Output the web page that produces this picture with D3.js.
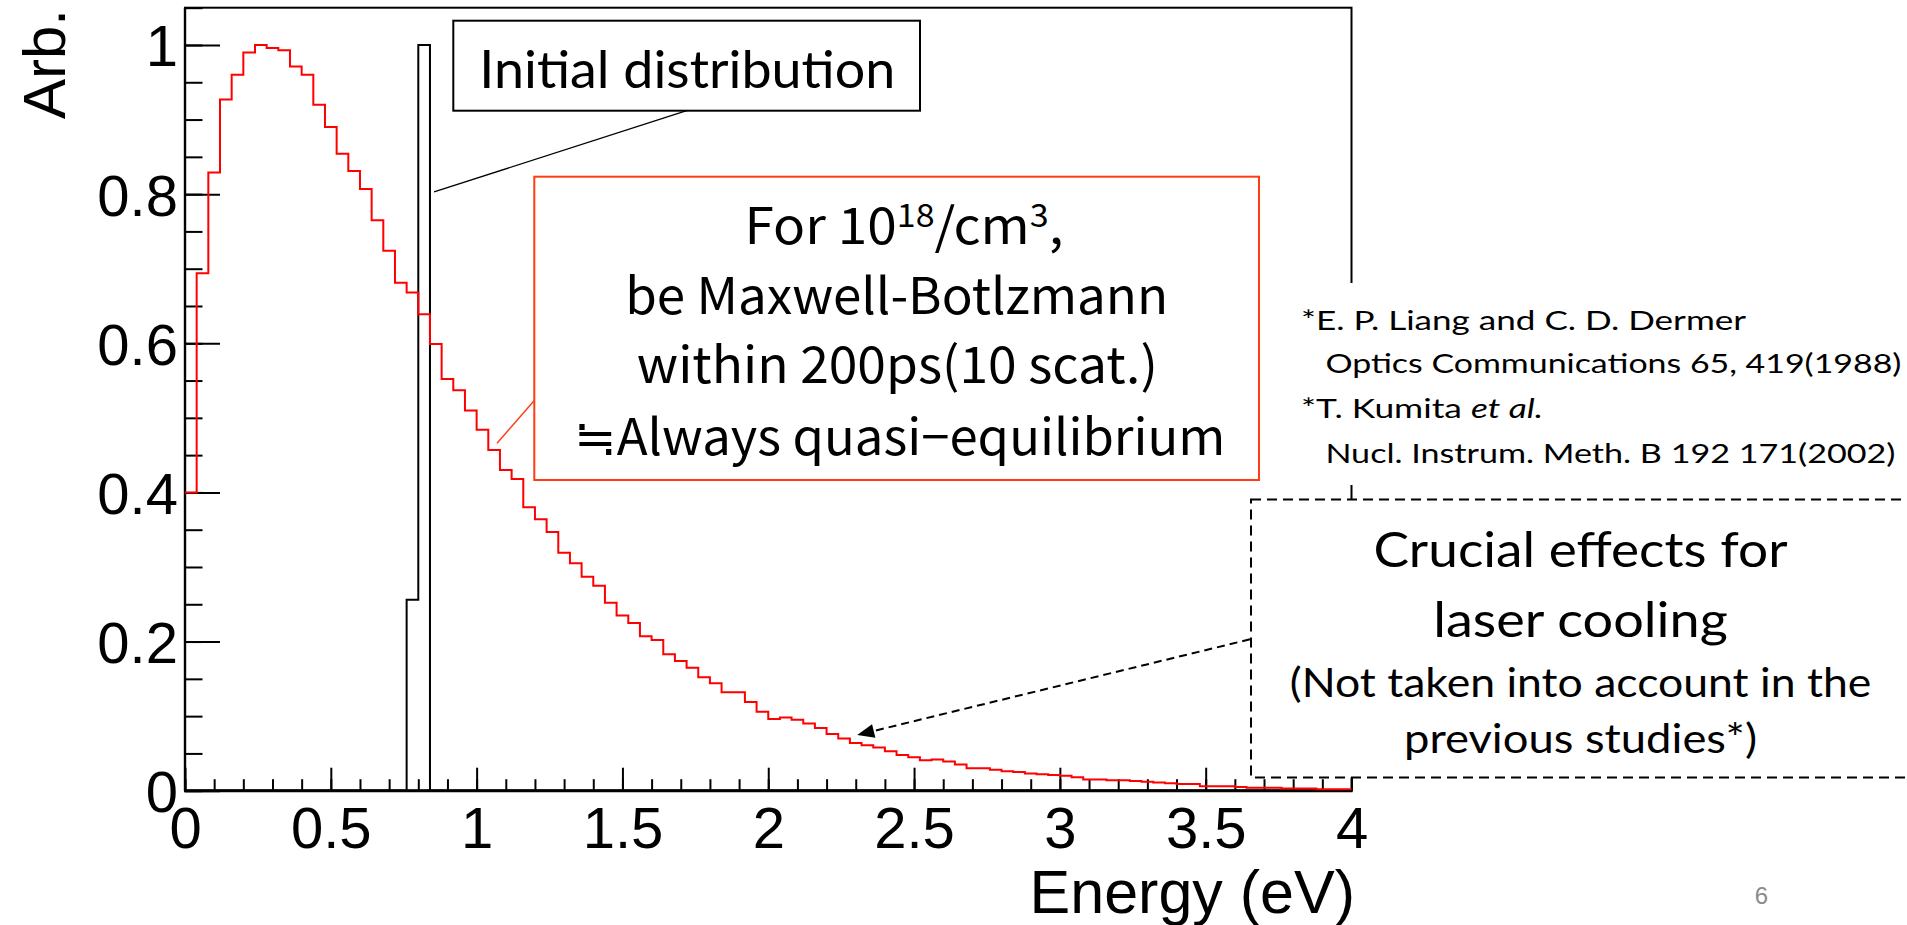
<!DOCTYPE html>
<html><head><meta charset="utf-8">
<script src="https://cdn.jsdelivr.net/npm/d3@7"></script>
<style>html,body{margin:0;padding:0;background:#fff;overflow:hidden}</style>
</head><body>
<svg id="c" width="1907" height="925"></svg>
<script>
// ---------- data ----------
const binWidth = 0.04;           // eV per histogram bin (0 .. 4 eV, 100 bins)
const mbValues = [
  0.400, 0.694, 0.829, 0.927, 0.960, 0.990, 1.000, 0.996, 0.993, 0.971,
  0.960, 0.920, 0.890, 0.854, 0.831, 0.807, 0.765, 0.724, 0.681, 0.668,
  0.639, 0.599, 0.552, 0.537, 0.510, 0.484, 0.457, 0.430, 0.418, 0.380,
  0.364, 0.347, 0.319, 0.305, 0.287, 0.275, 0.252, 0.235, 0.225, 0.207,
  0.202, 0.183, 0.174, 0.165, 0.152, 0.144, 0.132, 0.132, 0.119, 0.106,
  0.096, 0.098, 0.095, 0.090, 0.084, 0.076, 0.070, 0.064, 0.061, 0.058,
  0.053, 0.048, 0.045, 0.041, 0.042, 0.039, 0.035, 0.030, 0.030, 0.028,
  0.026, 0.025, 0.023, 0.022, 0.021, 0.020, 0.018, 0.015, 0.015, 0.014,
  0.014, 0.013, 0.012, 0.011, 0.010, 0.009, 0.009, 0.006, 0.006, 0.006,
  0.005, 0.004, 0.004, 0.004, 0.003, 0.003, 0.003, 0.002, 0.002, 0.002
];
const initialEdges  = [0, 0.76, 0.80, 0.84, 4];
const initialValues = [0, 0.256, 1.000, 0, 0];

const xTickValues = [0, 0.5, 1, 1.5, 2, 2.5, 3, 3.5, 4];
const xTickLabels = ["0", "0.5", "1", "1.5", "2", "2.5", "3", "3.5", "4"];
const yTickValues = [0, 0.2, 0.4, 0.6, 0.8, 1];
const yTickLabels = ["0", "0.2", "0.4", "0.6", "0.8", "1"];

const xTitle = "Energy (eV)";
const yTitle = "Arb.";

const initLabel = "Initial distribution";
const mbLines = ["be Maxwell-Botlzmann", "within 200ps(10 scat.)", "\u2252Always quasi\u2212equilibrium"];
const refLines = ["*E. P. Liang and  C. D. Dermer", "Optics Communications 65, 419(1988)", "Nucl. Instrum. Meth. B 192 171(2002)"];
const crucialLines = ["Crucial effects for", "laser cooling", "(Not taken into account in the", "previous studies*)"];

// ---------- scales ----------
const svg = d3.select("#c");
const x = d3.scaleLinear().domain([0, 4]).range([185, 1351.5]);
const y = d3.scaleLinear().domain([0, 1.05]).range([790.7, 7.7]);
const AX = "'Liberation Sans', Arial, Helvetica, sans-serif";
const CAL = "Lato, 'Open Sans', sans-serif";
const JP = "'Noto Sans CJK JP', sans-serif";

// frame
svg.append("rect").attr("x", x(0)).attr("y", y(1.05)).attr("width", x(4) - x(0)).attr("height", y(0) - y(1.05))
  .attr("fill", "none").attr("stroke", "#000").attr("stroke-width", 2);
svg.append("line").attr("x1", x(0) - 1).attr("x2", x(4) + 1).attr("y1", y(0)).attr("y2", y(0))
  .attr("stroke", "#000").attr("stroke-width", 3);
svg.append("line").attr("x1", x(0)).attr("x2", x(0)).attr("y1", y(0)).attr("y2", y(1.05))
  .attr("stroke", "#000").attr("stroke-width", 2.4);

// axes
function styleAxis(g) { g.select(".domain").remove(); g.selectAll(".tick line").attr("stroke", "#000").attr("stroke-width", 2); }
svg.append("g").attr("transform", `translate(0,${y(0)})`)
  .call(d3.axisBottom(x).tickValues(x.ticks(40)).tickSize(-11.5).tickFormat(""))
  .call(styleAxis);
svg.append("g").attr("transform", `translate(0,${y(0)})`)
  .call(d3.axisBottom(x).tickValues(xTickValues).tickSize(-23).tickPadding(16)
    .tickFormat((d, i) => xTickLabels[i]))
  .call(styleAxis)
  .call(g => g.selectAll("text").attr("font-family", AX).attr("font-size", 58).attr("fill", "#000"));
svg.append("g").attr("transform", `translate(${x(0)},0)`)
  .call(d3.axisLeft(y).tickValues(y.ticks(20)).tickSize(-17.5).tickFormat(""))
  .call(styleAxis);
svg.append("g").attr("transform", `translate(${x(0)},0)`)
  .call(d3.axisLeft(y).tickValues(yTickValues).tickSize(-35).tickPadding(7)
    .tickFormat((d, i) => yTickLabels[i]))
  .call(styleAxis)
  .call(g => g.selectAll("text").attr("font-family", AX).attr("font-size", 58).attr("fill", "#000").attr("dy", "0.36em"));

// axis titles
svg.append("text").attr("x", 1355).attr("y", 913).attr("text-anchor", "end")
  .attr("font-family", AX).attr("font-size", 61).text(xTitle);
svg.append("text").attr("transform", "translate(65,9) rotate(-90)").attr("text-anchor", "end")
  .attr("font-family", AX).attr("font-size", 60).text(yTitle);

// histograms
const step = d3.line().curve(d3.curveStepAfter).x(d => x(d[0])).y(d => y(d[1]));
const initPts = initialEdges.map((e, i) => [e, initialValues[i]]);
svg.append("path").attr("d", step(initPts)).attr("fill", "none").attr("stroke", "#000").attr("stroke-width", 2);
const mbPts = mbValues.map((v, i) => [i * binWidth, v]);
mbPts.push([mbValues.length * binWidth, mbValues[mbValues.length - 1]]);
svg.append("path").attr("d", step(mbPts)).attr("fill", "none").attr("stroke", "#ff0000").attr("stroke-width", 2);

// ---------- annotations ----------
// Initial distribution box
svg.append("line").attr("x1", 686.7).attr("y1", 110.7).attr("x2", x(0.854)).attr("y2", y(0.803))
  .attr("stroke", "#000").attr("stroke-width", 1.3);
svg.append("rect").attr("x", 453.3).attr("y", 20.7).attr("width", 466.7).attr("height", 90)
  .attr("fill", "#fff").attr("stroke", "#000").attr("stroke-width", 2);
svg.append("text").attr("x", 479.3).attr("y", 88.3).attr("font-family", CAL).attr("font-size", 52)
  .attr("textLength", 416).attr("lengthAdjust", "spacingAndGlyphs").text(initLabel);

// Maxwell-Boltzmann box
const OR = "#ff3c14";
svg.append("line").attr("x1", 534.3).attr("y1", 400.5).attr("x2", x(1.07)).attr("y2", y(0.466))
  .attr("stroke", OR).attr("stroke-width", 1.4);
svg.append("rect").attr("x", 534.3).attr("y", 176.7).attr("width", 724.7).attr("height", 303.3)
  .attr("fill", "#fff").attr("stroke", OR).attr("stroke-width", 2);
const t1 = svg.append("text").attr("x", 904).attr("y", 244).attr("text-anchor", "middle")
  .attr("font-family", JP).attr("font-size", 50)
  .attr("textLength", 319).attr("lengthAdjust", "spacingAndGlyphs");
t1.append("tspan").text("For 10");
t1.append("tspan").attr("dy", -17).attr("font-size", 32).text("18");
t1.append("tspan").attr("dy", 17).text("/cm");
t1.append("tspan").attr("dy", -17).attr("font-size", 32).text("3");
t1.append("tspan").attr("dy", 17).text(",");
const mbY = [314, 383.3, 455], mbX = [896.7, 897.3, 899.7], mbW = [543, 521, 651.5];
mbLines.forEach((s, i) => {
  svg.append("text").attr("x", mbX[i]).attr("y", mbY[i]).attr("text-anchor", "middle")
    .attr("font-family", JP).attr("font-size", 50)
    .attr("textLength", mbW[i]).attr("lengthAdjust", "spacingAndGlyphs").text(s);
});

// references
svg.append("rect").attr("x", 1290).attr("y", 283).attr("width", 617).attr("height", 202).attr("fill", "#fff");
const refFs = 26.5;
svg.append("text").attr("x", 1301).attr("y", 330).attr("font-family", CAL).attr("font-size", refFs)
  .attr("textLength", 445).attr("lengthAdjust", "spacingAndGlyphs").text(refLines[0]);
svg.append("text").attr("x", 1325.4).attr("y", 373.3).attr("font-family", CAL).attr("font-size", refFs)
  .attr("textLength", 576).attr("lengthAdjust", "spacingAndGlyphs").text(refLines[1]);
const r3 = svg.append("text").attr("x", 1301).attr("y", 418.3).attr("font-family", CAL).attr("font-size", refFs)
  .attr("textLength", 242).attr("lengthAdjust", "spacingAndGlyphs");
r3.append("tspan").text("*T. Kumita ");
r3.append("tspan").attr("font-style", "italic").text("et al.");
svg.append("text").attr("x", 1325.4).attr("y", 463.3).attr("font-family", CAL).attr("font-size", refFs)
  .attr("textLength", 570).attr("lengthAdjust", "spacingAndGlyphs").text(refLines[2]);

// crucial effects dashed box
svg.append("rect").attr("x", 1251).attr("y", 499.5).attr("width", 700).attr("height", 278)
  .attr("fill", "#fff").attr("stroke", "#000").attr("stroke-width", 2).attr("stroke-dasharray", "10,6");
const cY = [566.7, 636.7, 696.7, 753], cW = [414, 294.5, 581.5, 353], cF = [48, 48, 40, 40];
crucialLines.forEach((s, i) => {
  svg.append("text").attr("x", 1580.5).attr("y", cY[i]).attr("text-anchor", "middle")
    .attr("font-family", CAL).attr("font-size", cF[i])
    .attr("textLength", cW[i]).attr("lengthAdjust", "spacingAndGlyphs").text(s);
});

// dashed arrow
const tip = [x(2.305), y(0.0747)], start = [1250, 639.3];
const dx = tip[0] - start[0], dy = tip[1] - start[1], L = Math.hypot(dx, dy);
const ux = dx / L, uy = dy / L, aL = 17, aW = 7;
const bx = tip[0] - ux * aL, by = tip[1] - uy * aL;
svg.append("line").attr("x1", start[0]).attr("y1", start[1]).attr("x2", bx).attr("y2", by)
  .attr("stroke", "#000").attr("stroke-width", 2).attr("stroke-dasharray", "8,5");
svg.append("path").attr("d", `M${tip[0]},${tip[1]}L${bx - uy * aW},${by + ux * aW}L${bx + uy * aW},${by - ux * aW}Z`)
  .attr("fill", "#000");

// page number
svg.append("text").attr("x", 1761.5).attr("y", 904).attr("text-anchor", "middle")
  .attr("font-family", AX).attr("font-size", 24).attr("fill", "#8c8c8c").text("6");
</script>
</body></html>
